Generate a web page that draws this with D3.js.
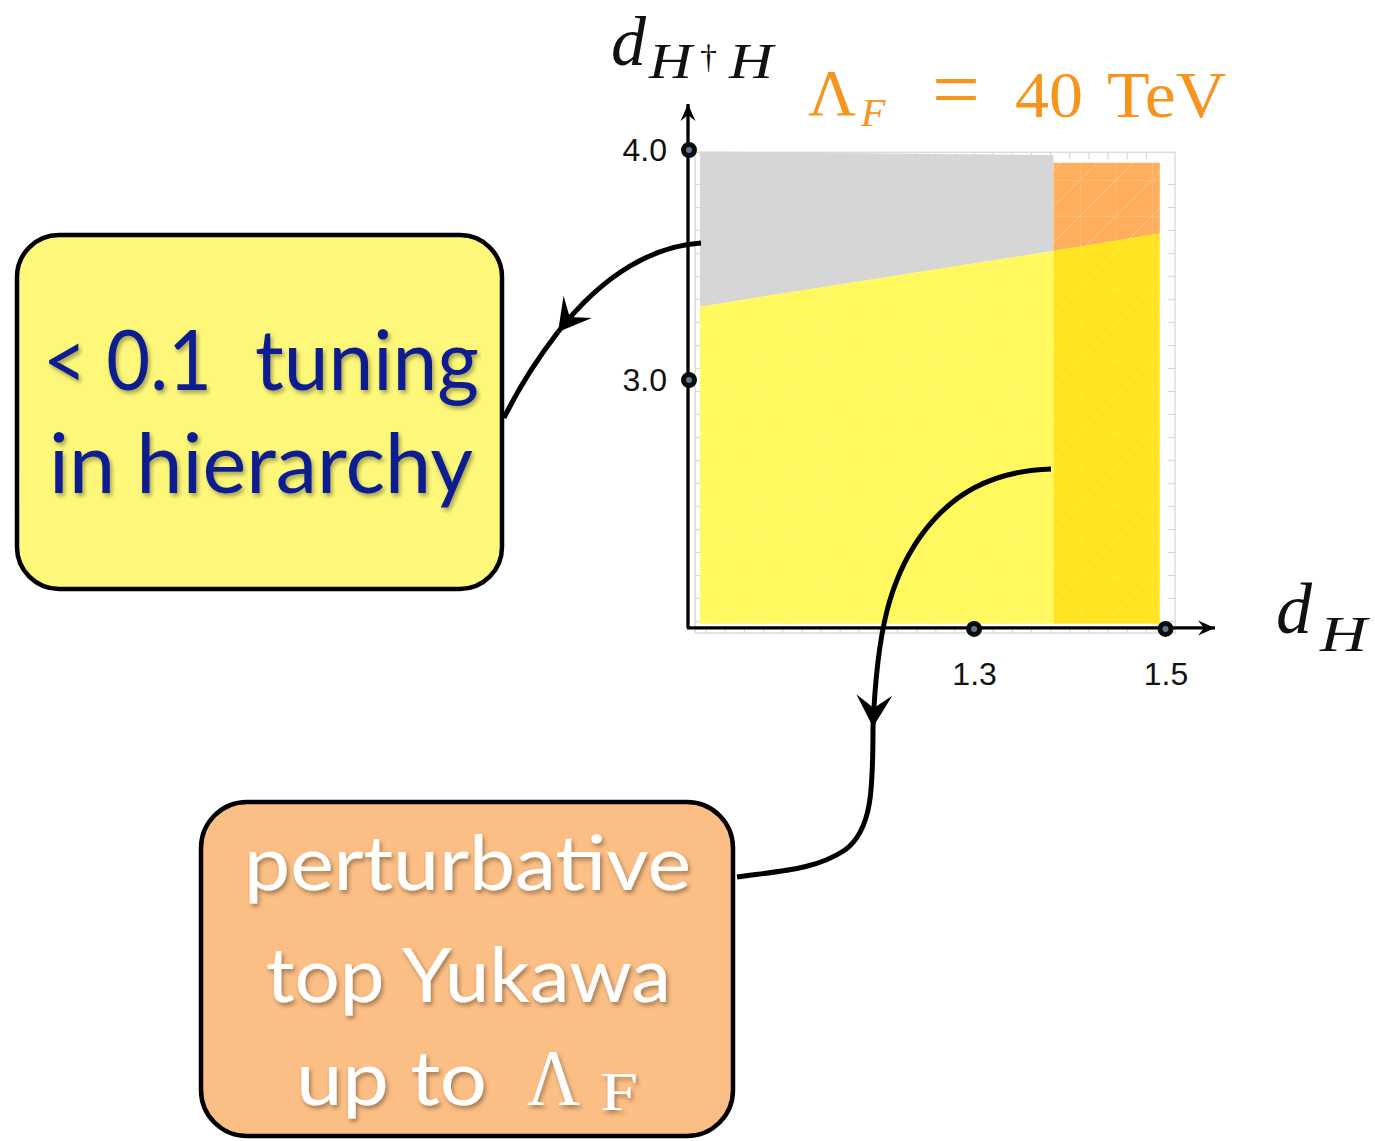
<!DOCTYPE html>
<html>
<head>
<meta charset="utf-8">
<script src="https://cdn.jsdelivr.net/npm/d3@7"></script>
<style>
  body { margin: 0; background: #fff; }
  svg { display: block; }
</style>
</head>
<body>
<div id="chart"></div>
<script>
// values (d_H on x, d_{H†H} on y)
const xBreaks = [1.0135, 1.383, 1.494];      // left edge, gray/orange split, right edge
const tuningBound = [3.319, 3.561, 3.637];  // lower edge of gray / orange at xBreaks
const grayTop = [3.993, 3.978];             // top of gray at xBreaks[0], xBreaks[1]
const orangeTop = 3.945;
const regionFloor = 1.94;
const xTicks = [1.3, 1.5];
const yTicks = [3.0, 4.0];
const xDomain = [1.0, 1.5];
const yDomain = [1.922, 4.0];
const frameX = [1.0085, 1.51];
const frameY = [1.9, 3.99];

const W = 1375, H = 1141;

const svg = d3.select('#chart')
    .append('svg')
    .attr('width', W)
    .attr('height', H);

const defs = svg.append('defs');

// notched arrowhead used by the axes and the callouts
function addArrow(id, len, half, notch) {
    defs.append('marker')
        .attr('id', id)
        .attr('markerUnits', 'userSpaceOnUse')
        .attr('viewBox', `${-len - 2} ${-half - 2} ${len + 4} ${2 * half + 4}`)
        .attr('refX', 0)
        .attr('refY', 0)
        .attr('markerWidth', len + 4)
        .attr('markerHeight', 2 * half + 4)
        .attr('orient', 'auto')
        .append('path')
        .attr('d', `M0,0 L${-len},${-half} L${-notch},0 L${-len},${half} Z`)
        .attr('fill', '#000');
}
addArrow('arrow-axis', 17, 7.5, 11);
addArrow('arrow-call', 32, 18, 19);

const shadow = defs.append('filter')
    .attr('id', 'shadow')
    .attr('x', '-10%').attr('y', '-20%')
    .attr('width', '130%').attr('height', '150%');
shadow.append('feDropShadow')
    .attr('dx', 2).attr('dy', 3)
    .attr('stdDeviation', 2.2)
    .attr('flood-color', '#000')
    .attr('flood-opacity', 0.35);

// faint mesh lines like the plotting program leaves in filled regions
const mesh = defs.append('pattern')
    .attr('id', 'mesh')
    .attr('patternUnits', 'userSpaceOnUse')
    .attr('width', 36).attr('height', 36);
mesh.append('path')
    .attr('d', 'M0,36 L36,0 M0,0 L0,36 M0,0 L36,0')
    .attr('stroke', '#fff')
    .attr('stroke-width', 1)
    .attr('fill', 'none');

// scales
const x = d3.scaleLinear().domain(xDomain).range([687, 1165.5]);
const y = d3.scaleLinear().domain([3, 4]).range([380, 150]);

const poly = d3.line().x(d => x(d[0])).y(d => y(d[1]));
const closed = pts => poly(pts) + 'Z';

// plot frame with light minor ticks
const frame = svg.append('g').attr('class', 'frame');
frame.append('rect')
    .attr('x', x(frameX[0]))
    .attr('y', y(frameY[1]))
    .attr('width', x(frameX[1]) - x(frameX[0]))
    .attr('height', y(frameY[0]) - y(frameY[1]))
    .attr('fill', 'none')
    .attr('stroke', '#dcdcdc')
    .attr('stroke-width', 1.5);

const minorY = d3.range(3.85, 1.9, -0.1);
const minorX = d3.range(1.02, 1.5, 0.02);
frame.selectAll('.my')
    .data(minorY.flatMap(v => [[frameX[0], v, 1], [frameX[1], v, -1]]))
    .enter().append('line')
    .attr('x1', d => x(d[0]))
    .attr('x2', d => x(d[0]) + d[2] * 7)
    .attr('y1', d => y(d[1]))
    .attr('y2', d => y(d[1]))
    .attr('stroke', '#d8d8d8')
    .attr('stroke-width', 1.2);
frame.selectAll('.mx')
    .data(minorX.flatMap(v => [[v, frameY[1], 1], [v, frameY[0], -1]]))
    .enter().append('line')
    .attr('x1', d => x(d[0]))
    .attr('x2', d => x(d[0]))
    .attr('y1', d => y(d[1]))
    .attr('y2', d => y(d[1]) + d[2] * 7)
    .attr('stroke', '#d8d8d8')
    .attr('stroke-width', 1.2);

// regions
const [x0, x1, x2] = xBreaks;
const regions = [
    { fill: '#d6d6d6', mesh: 0, pts: [[x0, grayTop[0]], [x1, grayTop[1]], [x1, tuningBound[1]], [x0, tuningBound[0]]] },
    { fill: '#fff95e', mesh: 0.18, pts: [[x0, tuningBound[0]], [x1, tuningBound[1]], [x1, regionFloor], [x0, regionFloor]] },
    { fill: '#ffae5b', mesh: 0.3, pts: [[x1, orangeTop], [x2, orangeTop], [x2, tuningBound[2]], [x1, tuningBound[1]]] },
    { fill: '#ffe41f', mesh: 0.15, pts: [[x1, tuningBound[1]], [x2, tuningBound[2]], [x2, regionFloor], [x1, regionFloor]] }
];
const reg = svg.append('g').attr('class', 'regions');
reg.selectAll('path.fill')
    .data(regions)
    .enter().append('path')
    .attr('class', 'fill')
    .attr('d', d => closed(d.pts))
    .attr('fill', d => d.fill);
reg.selectAll('path.mesh')
    .data(regions.filter(d => d.mesh > 0))
    .enter().append('path')
    .attr('class', 'mesh')
    .attr('d', d => closed(d.pts))
    .attr('fill', 'url(#mesh)')
    .attr('opacity', d => d.mesh);

// axes (hand-drawn style: line + arrow, dots as ticks)
const axes = svg.append('g').attr('class', 'axes');
axes.append('line')
    .attr('x1', x(xDomain[0]) + 1).attr('y1', y(yDomain[0]))
    .attr('x2', x(xDomain[0]) + 1).attr('y2', 104)
    .attr('stroke', '#000').attr('stroke-width', 3.3)
    .attr('marker-end', 'url(#arrow-axis)');
axes.append('line')
    .attr('x1', x(xDomain[0])).attr('y1', y(yDomain[0]))
    .attr('x2', 1215).attr('y2', y(yDomain[0]))
    .attr('stroke', '#000').attr('stroke-width', 3.3)
    .attr('marker-end', 'url(#arrow-axis)');

const yAxis = svg.append('g')
    .attr('transform', `translate(${x(xDomain[0]) + 1},0)`)
    .call(d3.axisLeft(y).tickValues(yTicks).tickFormat(d3.format('.1f')).tickSize(0).tickPadding(21));
const xAxis = svg.append('g')
    .attr('transform', `translate(0,${y(yDomain[0])})`)
    .call(d3.axisBottom(x).tickValues(xTicks).tickFormat(d3.format('.1f')).tickSize(0).tickPadding(34));
[yAxis, xAxis].forEach(g => {
    g.select('.domain').remove();
    g.selectAll('text')
        .attr('fill', '#111')
        .style('font-family', '"Liberation Sans", Arial, sans-serif')
        .style('font-size', '32px');
});

const dots = yTicks.map(v => [xDomain[0], v]).concat(xTicks.map(v => [v, yDomain[0]]));
axes.selectAll('circle')
    .data(dots)
    .enter().append('circle')
    .attr('cx', d => x(d[0]) + (d[0] === xDomain[0] ? 2 : 0))
    .attr('cy', d => y(d[1]) + (d[1] === yDomain[0] ? 1 : 0))
    .attr('r', 5.5)
    .attr('fill', '#5f7797')
    .attr('stroke', '#0b0b0b')
    .attr('stroke-width', 5);

// axis labels (math italic)
const serif = '"Liberation Serif", "Times New Roman", serif';
const ylab = svg.append('g').attr('class', 'y-label').attr('fill', '#111').style('font-family', serif);
ylab.append('text').attr('x', 611).attr('y', 65).style('font-style', 'italic').style('font-size', '70px').text('d');
ylab.append('text').attr('x', 649).attr('y', 78).style('font-style', 'italic').style('font-size', '50px')
    .attr('textLength', 43).attr('lengthAdjust', 'spacingAndGlyphs').text('H');
ylab.append('text').attr('x', 700).attr('y', 68).style('font-size', '34px').text('†');
ylab.append('text').attr('x', 729).attr('y', 78).style('font-style', 'italic').style('font-size', '50px')
    .attr('textLength', 44).attr('lengthAdjust', 'spacingAndGlyphs').text('H');

const xlab = svg.append('g').attr('class', 'x-label').attr('fill', '#111').style('font-family', serif);
xlab.append('text').attr('x', 1276).attr('y', 633).style('font-style', 'italic').style('font-size', '72px').text('d');
xlab.append('text').attr('x', 1320).attr('y', 651).style('font-style', 'italic').style('font-size', '50px')
    .attr('textLength', 47).attr('lengthAdjust', 'spacingAndGlyphs').text('H');

// Lambda_F = 40 TeV
const lam = svg.append('g').attr('class', 'title').attr('fill', '#f7941d').style('font-family', serif);
lam.append('text').attr('x', 808).attr('y', 115).style('font-size', '66px')
    .attr('textLength', 48).attr('lengthAdjust', 'spacingAndGlyphs').text('Λ');
lam.append('text').attr('x', 861).attr('y', 126).style('font-style', 'italic').style('font-size', '40px').text('F');
lam.append('text').attr('x', 932).attr('y', 117).style('font-size', '82px')
    .attr('textLength', 48).attr('lengthAdjust', 'spacingAndGlyphs').text('=');
lam.append('text').attr('x', 1015).attr('y', 117).style('font-size', '66px')
    .attr('textLength', 68).attr('lengthAdjust', 'spacingAndGlyphs').text('40');
lam.append('text').attr('x', 1107).attr('y', 117).style('font-size', '66px')
    .attr('textLength', 119).attr('lengthAdjust', 'spacingAndGlyphs').text('TeV');

// callout boxes
const sans = 'Lato, "Open Sans", sans-serif';
svg.append('rect')
    .attr('x', 17).attr('y', 235).attr('width', 485).attr('height', 354)
    .attr('rx', 42).attr('ry', 42)
    .attr('fill', '#fef87a').attr('stroke', '#000').attr('stroke-width', 4.5);
const tune = svg.append('g').attr('fill', '#0c1c8e').style('font-family', sans)
    .style('font-size', '84px').attr('filter', 'url(#shadow)');
tune.append('text').attr('x', 43).attr('y', 390).attr('textLength', 169).attr('lengthAdjust', 'spacingAndGlyphs').text('< 0.1');
tune.append('text').attr('x', 255).attr('y', 390).attr('textLength', 224).attr('lengthAdjust', 'spacingAndGlyphs').text('tuning');
tune.append('text').attr('x', 49).attr('y', 493).attr('textLength', 424).attr('lengthAdjust', 'spacingAndGlyphs').text('in hierarchy');

svg.append('rect')
    .attr('x', 201).attr('y', 802).attr('width', 532).attr('height', 334)
    .attr('rx', 46).attr('ry', 46)
    .attr('fill', '#fbbe84').attr('stroke', '#000').attr('stroke-width', 4.5);
const pert = svg.append('g').attr('fill', '#fff').style('font-family', sans)
    .style('font-size', '76px').attr('filter', 'url(#shadow)');
pert.append('text').attr('x', 244).attr('y', 890).attr('textLength', 447).attr('lengthAdjust', 'spacingAndGlyphs').text('perturbative');
pert.append('text').attr('x', 266).attr('y', 1002).attr('textLength', 405).attr('lengthAdjust', 'spacingAndGlyphs').text('top Yukawa');
pert.append('text').attr('x', 296).attr('y', 1105).attr('textLength', 191).attr('lengthAdjust', 'spacingAndGlyphs').text('up to');
pert.append('text').attr('x', 527).attr('y', 1105).style('font-family', serif).style('font-size', '80px')
    .attr('textLength', 53).attr('lengthAdjust', 'spacingAndGlyphs').text('Λ');
pert.append('text').attr('x', 600).attr('y', 1110).style('font-family', serif).style('font-size', '54px')
    .attr('textLength', 38).attr('lengthAdjust', 'spacingAndGlyphs').text('F');

// callout arrows
const callouts = [
    { head: 'M701,243 C655,246 605,272 558,332', tail: 'M558,332 C538,358 520,385 504,418' },
    { head: 'M1051,469 C990,471 950,495 920,537 C890,580 877,630 873,727',
      tail: 'M873,727 C873,790 872,830 845,850 C815,870 780,871 737,877' }
];
const arrows = svg.append('g').attr('class', 'callouts')
    .attr('fill', 'none').attr('stroke', '#000').attr('stroke-width', 5);
callouts.forEach(c => {
    arrows.append('path').attr('d', c.head).attr('marker-end', 'url(#arrow-call)');
    arrows.append('path').attr('d', c.tail);
});
</script>
</body>
</html>
